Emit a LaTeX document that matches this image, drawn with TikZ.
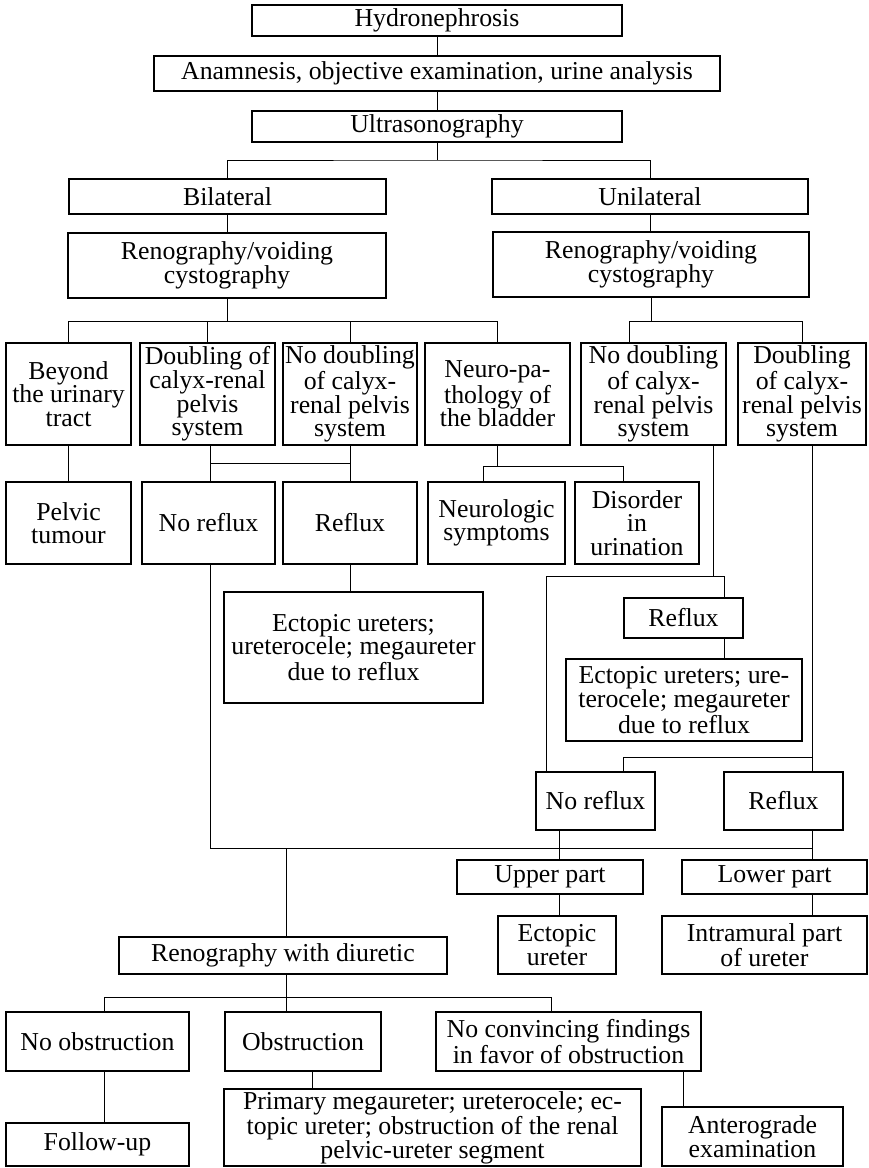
\documentclass[tikz,border=0pt]{standalone}
\usepackage{fontspec}
\setmainfont{Liberation Serif}
\begin{document}
\begin{tikzpicture}[x=0.5pt,y=-0.5pt,
  bx/.style={draw, line width=0.7pt, inner sep=0pt, align=center,
             font=\fontsize{12.9pt}{11.8pt}\selectfont},
  ln/.style={line width=0.5pt}]
\fill[white] (0,0) rectangle (868,1168);
\useasboundingbox (0,0) rectangle (868,1168);
% box: name, left, top, right, bottom, text
\newcommand\bx[6]{\node[bx, minimum width={(#4-#2)*0.5pt}, minimum height={(#5-#3)*0.5pt}]
  (#1) at ({(#2+#4)/2},{(#3+#5)/2}) {#6};}

% ---- boxes ----
\bx{hyd}{252}{5}{622}{36}{Hydronephrosis}
\bx{anam}{154}{56}{720}{91}{Anamnesis, objective examination, urine analysis}
\bx{ultra}{252}{111}{622}{142}{Ultrasonography}
\bx{bil}{69}{179}{386}{214}{Bilateral}
\bx{uni}{492}{179}{808}{214}{Unilateral}
\bx{renoL}{68}{233}{386}{298}{Renography/voiding\\cystography}
\bx{renoR}{493}{232}{809}{297}{Renography/voiding\\cystography}
\bx{beyond}{6}{343}{131}{445}{Beyond\\the urinary\\tract}
\bx{doub}{140}{343}{275}{445}{Doubling of\\calyx-renal\\pelvis\\system}
\bx{nodoub}{283}{343}{417}{445}{No doubling\\of calyx-\\renal pelvis\\system}
\bx{neuro}{425}{343}{570}{445}{Neuro-pa-\\thology of\\the bladder}
\bx{nodoubR}{581}{343}{726}{445}{No doubling\\of calyx-\\renal pelvis\\system}
\bx{doubR}{738}{343}{866}{445}{Doubling\\of calyx-\\renal pelvis\\system}
\bx{pelvic}{6}{482}{131}{564}{Pelvic\\tumour}
\bx{norefL}{142}{482}{275}{564}{No reflux}
\bx{refL}{283}{482}{417}{564}{Reflux}
\bx{neurol}{428}{482}{565}{564}{Neurologic\\symptoms}
\bx{disorder}{575}{482}{699}{564}{Disorder\\in\\urination}
\bx{ectL}{224}{592}{483}{703}{Ectopic ureters;\\ureterocele; megaureter\\due to reflux}
\bx{refR}{624}{598}{743}{638}{Reflux}
\bx{ectR}{566}{659}{802}{741}{Ectopic ureters; ure-\\terocele; megaureter\\due to reflux}
\bx{norefR2}{536}{772}{655}{830}{No reflux}
\bx{refR2}{724}{772}{843}{830}{Reflux}
\bx{upper}{457}{860}{643}{894}{Upper part}
\bx{lower}{682}{860}{867}{894}{Lower part}
\bx{ectU}{498}{916}{616}{974}{Ectopic\\ureter}
\bx{intra}{662}{916}{867}{974}{Intramural part\\of ureter}
\bx{renoD}{119}{937}{447}{974}{Renography with diuretic}
\bx{noobs}{6}{1012}{189}{1071}{No obstruction}
\bx{obs}{225}{1012}{381}{1071}{Obstruction}
\bx{noconv}{436}{1012}{701}{1071}{No convincing findings\\in favor of obstruction}
\bx{follow}{6}{1123}{189}{1166}{Follow-up}
\bx{primary}{224}{1089}{641}{1166}{Primary megaureter; ureterocele; ec-\\topic ureter; obstruction of the renal\\pelvic-ureter segment}
\bx{antero}{662}{1107}{843}{1166}{Anterograde\\examination}

% ---- junction points ----
\coordinate (s1) at (437,160);
\coordinate (s2) at (227,321);
\coordinate (s3) at (629,321);
\coordinate (s4) at (210,463);
\coordinate (s5) at (498,466);
\coordinate (s5a) at (483,466);
\coordinate (s5b) at (623,466);
\coordinate (s6) at (210,848);
\coordinate (s7) at (812.5,848);
\coordinate (s8) at (286,848);
\coordinate (s9) at (713,576);
\coordinate (s9a) at (546,576);
\coordinate (s9b) at (724,576);
\coordinate (s10) at (812.5,757);
\coordinate (s10a) at (623,757);
\coordinate (s11) at (559,848);
\coordinate (s12) at (286,997);
\coordinate (s12a) at (104,997);
\coordinate (s12b) at (551,997);
\coordinate (s13) at (312,1080);
\coordinate (s14) at (683,1090);

% ---- connectors ----
\draw[ln] (hyd) -- (anam);
\draw[ln] (anam) -- (ultra);
\draw[ln] (ultra) -- (s1);
\draw[ln] (bil.north) |- (s1) -| (uni.north);
\draw[ln] (bil.south) -- (bil.south |- renoL.north);
\draw[ln] (uni.south) -- (uni.south |- renoR.north);

\draw[ln] (renoL.south) -- (renoL.south |- s2);
\draw[ln] (beyond.north) |- (neuro.north |- s2) -- (neuro.north);
\draw[ln] (doub.north) -- (doub.north |- s2);
\draw[ln] (nodoub.north) -- (nodoub.north |- s2);

\draw[ln] (renoR.south) -- (renoR.south |- s3);
\draw[ln] (nodoubR.north -| s3) -- (s3) -- (doubR.north |- s3) -- (doubR.north);

\draw[ln] (beyond) -- (pelvic);
\draw[ln] (doub.south -| s4) -- (norefL.north -| s4);
\draw[ln] (nodoub.south) -- (nodoub.south |- refL.north);
\draw[ln] (s4) -- (s4 -| nodoub.south);

\draw[ln] (neuro.south) -- (neuro.south |- s5);
\draw[ln] (neurol.north -| s5a) -- (s5a) -- (s5b) -- (disorder.north -| s5b);

\draw[ln] (refL.south) -- (refL.south |- ectL.north);

\draw[ln] (nodoubR.south -| s9) -- (s9);
\draw[ln] (norefR2.north -| s9a) -- (s9a) -- (s9b) -- (refR.north -| s9b);
\draw[ln] (refR.south -| s9b) -- (ectR.north -| s9b);

\draw[ln] (doubR.south -| s10) -- (refR2.north -| s10);
\draw[ln] (s10) -- (s10a) -- (norefR2.north -| s10a);

\draw[ln] (norefL.south -| s6) -- (s6) -- (s7);
\draw[ln] (s8) -- (renoD.north -| s8);

\draw[ln] (norefR2.south -| s11) -- (upper.north -| s11);
\draw[ln] (refR2.south -| s10) -- (lower.north -| s10);
\draw[ln] (upper.south -| s11) -- (ectU.north -| s11);
\draw[ln] (lower.south -| s10) -- (intra.north -| s10);

\draw[ln] (renoD.south -| s12) -- (s12);
\draw[ln] (noobs.north -| s12a) -- (s12a) -- (s12b) -- (noconv.north -| s12b);
\draw[ln] (s12) -- (obs.north -| s12);
\draw[ln] (noobs.south -| s12a) -- (follow.north -| s12a);
\draw[ln] (obs.south -| s13) -- (primary.north -| s13);
\draw[ln] (noconv.south -| s14) -- (antero.north -| s14);
\end{tikzpicture}
\end{document}
